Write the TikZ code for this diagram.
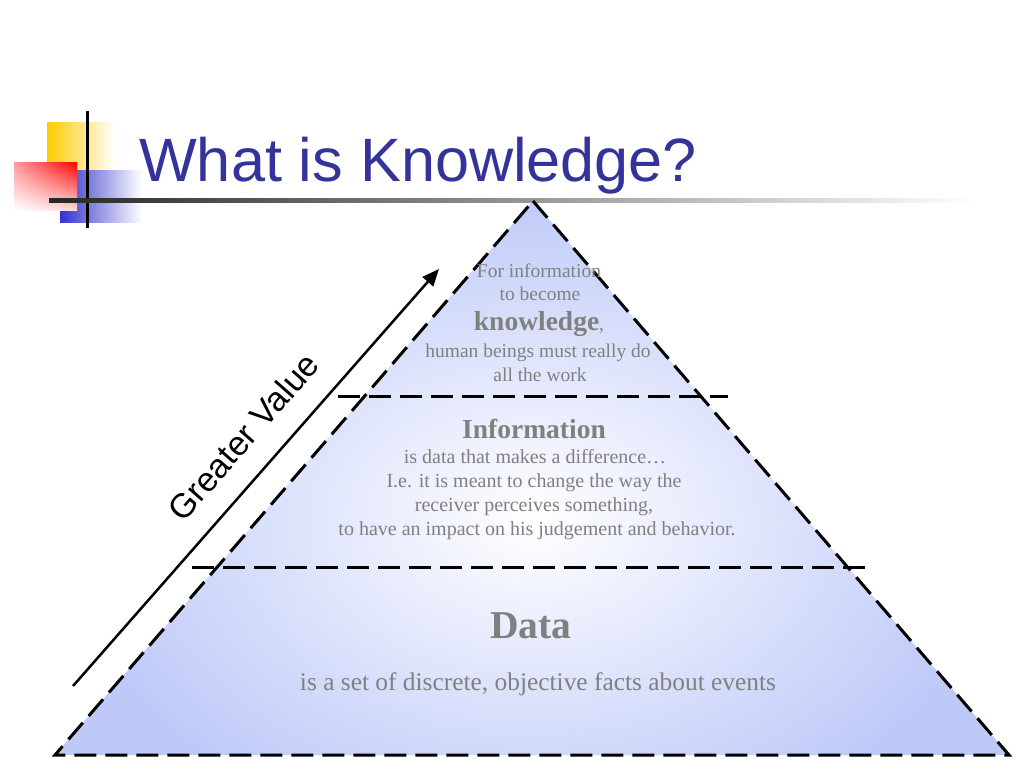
\documentclass[tikz,border=0pt]{standalone}
\usepackage{fontspec}
\setmainfont{Liberation Serif}
\newfontfamily\arialfont{Liberation Sans}
\usetikzlibrary{arrows.meta,shadings}
\definecolor{titleblue}{RGB}{51,51,153}
\definecolor{pyr}{RGB}{190,201,248}
\definecolor{txtgray}{RGB}{128,128,128}
\definecolor{decoyellow}{RGB}{255,204,0}
\definecolor{decoblue}{RGB}{51,51,204}
\tikzset{
  pyredge/.style={line width=3pt, dash pattern=on 22pt off 9pt},
  divline/.style={line width=3pt, dash pattern=on 22pt off 9pt},
  valarrow/.style={line width=2.5pt, -{Triangle[length=17pt,width=14pt]}},
  bodytxt/.style={text=txtgray, anchor=base, inner sep=0pt, font=\fontsize{20}{24}\selectfont},
}
\begin{document}
\begin{tikzpicture}[x=1pt,y=-1pt]
\useasboundingbox (0,0) rectangle (1024,768);
\fill[white] (0,0) rectangle (1024,768);

% decoration
\shade[left color=decoyellow, middle color=decoyellow, right color=white] (47,122) rectangle (115,172);
\shade[left color=decoblue, middle color=decoblue, right color=white] (60,170) rectangle (142,222);
\shade[upper right=red, upper left=red!40, lower right=red!15, lower left=white] (14,162) rectangle (77,210);
\draw[line width=3pt] (87,111) -- (87,228);
\shade[left color=black!85, middle color=black!45, right color=white] (49,198) rectangle (975,202);

% title
\node[anchor=base west, inner sep=0pt, text=titleblue, font=\arialfont\fontsize{61.2}{72}\selectfont] (title) at (139,181) {What is Knowledge?};

% pyramid
\coordinate (apex) at (533,201);
\coordinate (bl) at (55,755);
\coordinate (br) at (1009,755);
\begin{scope}
  \clip (apex) -- (br) -- (bl) -- cycle;
  \fill[pyr] (apex) -- (br) -- (bl) -- cycle;
  \shade[inner color=white, outer color=pyr] (533,520) ellipse (470 and 330);
\end{scope}
\draw[pyredge] (apex) -- (br) -- (bl) -- cycle;

\coordinate (d1l) at (338,396);
\coordinate (d1r) at (728,396);
\coordinate (d2l) at (192,567);
\coordinate (d2r) at (871,567);
\draw[divline] (d1l) -- (d1r);
\draw[divline] (d2l) -- (d2r);

% arrow
\coordinate (as) at (73,686);
\coordinate (ae) at (439,269);
\draw[valarrow] (as) -- (ae);
\node[rotate=48.7, font=\arialfont\fontsize{34}{40}\selectfont] (gv) at (243,437) {Greater Value};

% knowledge text
\node[bodytxt, font=\fontsize{19.5}{24}\selectfont] (k1) at (539,277) {For information};
\node[bodytxt, font=\fontsize{19.5}{24}\selectfont] (k2) at (540,300) {to become};
\node[bodytxt, font=\fontsize{19.5}{24}\selectfont] (k3) at (539,330) {{\fontsize{27.5}{32}\selectfont\bfseries knowledge},};
\node[bodytxt, font=\fontsize{19.5}{24}\selectfont] (k4) at (538,357) {human beings must really do};
\node[bodytxt, font=\fontsize{19.5}{24}\selectfont] (k5) at (540,381) {all the work};

% information text
\node[bodytxt, font=\fontsize{27.5}{32}\selectfont\bfseries] (i0) at (534,438) {Information};
\node[bodytxt] (i1) at (535,463) {is data that makes a difference…};
\node[bodytxt] (i2) at (534,487) {I.e. it is meant to change the way the};
\node[bodytxt] (i3) at (534,511) {receiver perceives something,};
\node[bodytxt] (i4) at (537,535) {to have an impact on his judgement and behavior.};

% data text
\node[bodytxt, font=\fontsize{39.5}{46}\selectfont\bfseries] (d0) at (531,638) {Data};
\node[bodytxt, font=\fontsize{25.4}{30}\selectfont] (d1) at (538,690) {is a set of discrete, objective facts about events};
\end{tikzpicture}
\end{document}
